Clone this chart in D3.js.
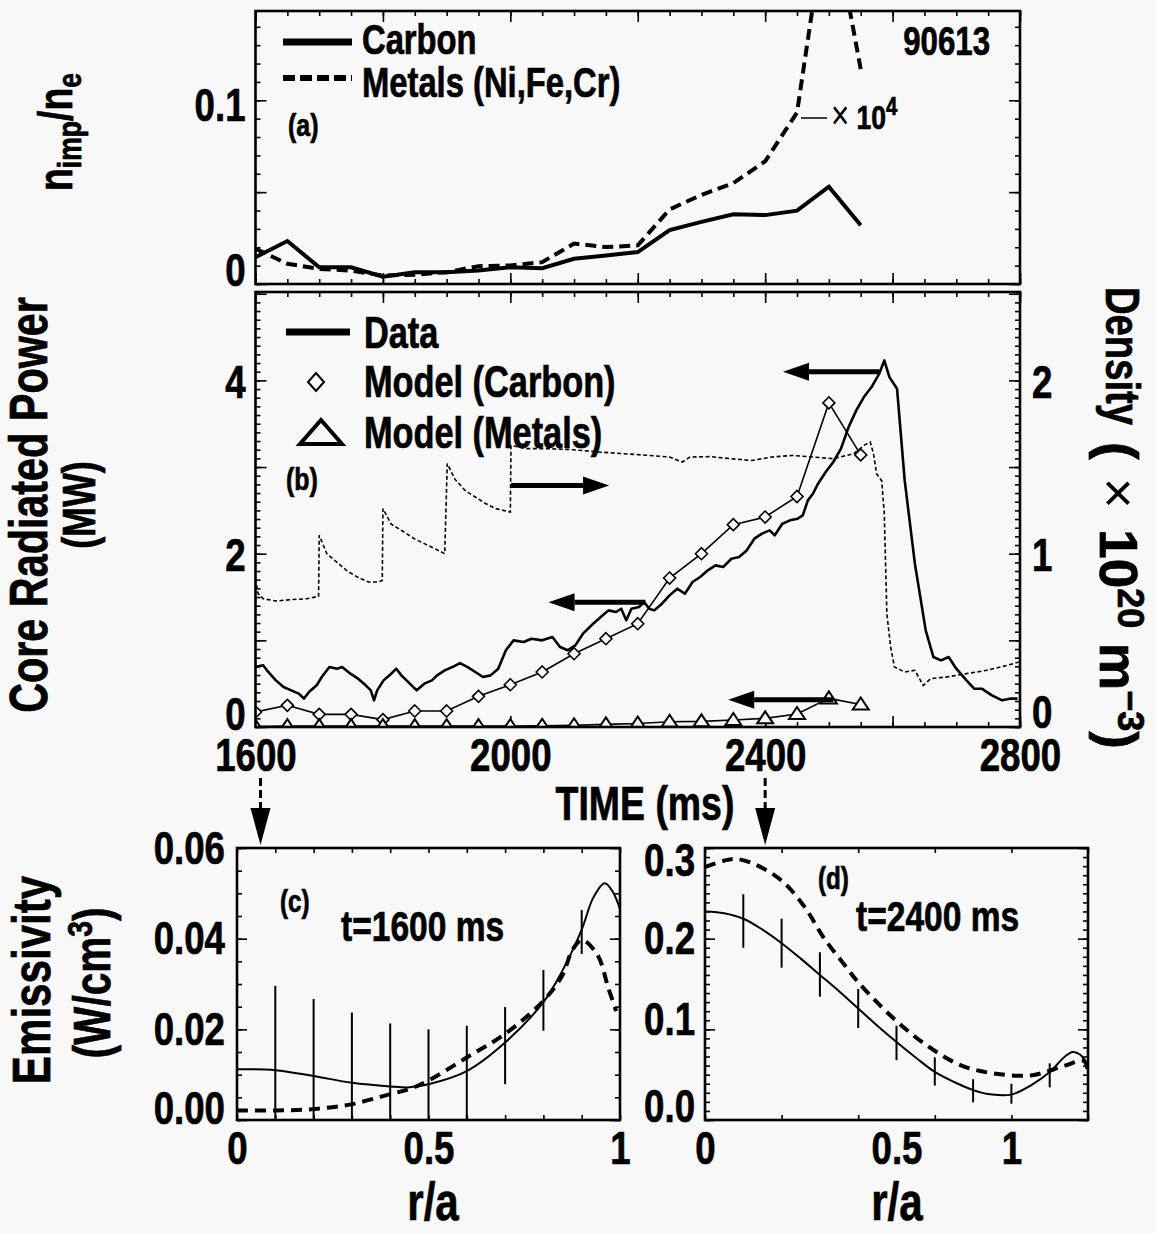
<!DOCTYPE html>
<html>
<head>
<meta charset="utf-8">
<script src="https://cdn.jsdelivr.net/npm/d3@7"></script>
<style>
  body { margin: 0; background: #f8f8f8; }
  svg { display: block; }
  text { font-family: "Liberation Sans", Arial, Helvetica, sans-serif; font-weight: bold; fill: #000; stroke: #000; stroke-width: 0.7px; }
</style>
</head>
<body>
<svg id="chart" width="1156" height="1233"></svg>
<script>
// ---- (a) impurity fraction, every 50 ms ----
const impTimes = [1600,1650,1700,1750,1800,1850,1900,1950,2000,2050,2100,2150,2200,2250,2300,2350,2400,2450,2500,2550];
const carbonFrac = [0.0146,0.0234,0.0091,0.0091,0.0040,0.0064,0.0064,0.0073,0.0091,0.0086,0.0137,0.0155,0.0174,0.0293,0.0338,0.0380,0.0375,0.0399,0.0530,0.0320];
const metalsFrac = [0.0192,0.0110,0.0082,0.0073,0.0046,0.0051,0.0064,0.0097,0.0101,0.0119,0.0220,0.0201,0.0210,0.0406,0.0485,0.0549,0.0668,0.0933,0.2100,0.1170];

// ---- (b) model radiated power (MW) at the same times ----
const modelCarbon = [0.173,0.250,0.146,0.146,0.085,0.185,0.185,0.354,0.488,0.635,0.846,1.019,1.192,1.719,2.000,2.335,2.423,2.660,3.740,3.140];
const modelMetals = [0.005,0.010,0.010,0.010,0.010,0.010,0.010,0.010,0.012,0.015,0.020,0.030,0.040,0.060,0.065,0.080,0.100,0.150,0.330,0.260];

// measured core radiated power [time ms, MW]
const powerData = [
  [1600,0.692],[1612,0.712],[1620,0.635],[1632,0.538],[1644,0.462],[1656,0.423],[1668,0.385],[1676,0.327],
  [1684,0.404],[1696,0.481],[1704,0.577],[1716,0.692],[1728,0.673],[1736,0.692],[1749,0.615],[1761,0.558],
  [1773,0.481],[1781,0.423],[1786,0.308],[1791,0.423],[1801,0.538],[1813,0.615],[1821,0.673],[1829,0.596],
  [1837,0.538],[1845,0.481],[1853,0.423],[1865,0.500],[1877,0.538],[1885,0.596],[1897,0.654],[1909,0.692],
  [1921,0.738],[1933,0.692],[1945,0.635],[1957,0.577],[1969,0.596],[1981,0.673],[1993,0.885],[2005,1.000],
  [2021,0.981],[2033,1.019],[2050,1.000],[2066,1.038],[2078,0.923],[2090,0.885],[2102,0.942],[2114,1.077],
  [2130,1.192],[2142,1.269],[2154,1.346],[2166,1.327],[2174,1.365],[2182,1.231],[2190,1.365],[2202,1.385],
  [2210,1.442],[2218,1.365],[2226,1.346],[2238,1.423],[2250,1.519],[2262,1.596],[2274,1.538],[2286,1.673],
  [2298,1.731],[2310,1.808],[2322,1.865],[2334,1.846],[2347,1.942],[2359,1.962],[2371,2.038],[2383,2.173],
  [2395,2.231],[2407,2.269],[2415,2.212],[2427,2.346],[2439,2.385],[2451,2.404],[2459,2.442],[2467,2.615],
  [2475,2.692],[2483,2.808],[2495,2.942],[2507,3.058],[2519,3.212],[2531,3.462],[2543,3.654],[2555,3.808],
  [2567,3.923],[2579,4.077],[2587,4.231],[2595,4.038],[2607,3.904],[2619,2.846],[2635,1.885],[2652,1.115],
  [2664,0.808],[2676,0.769],[2688,0.808],[2700,0.673],[2716,0.538],[2728,0.442],[2740,0.442],[2756,0.365],
  [2772,0.308],[2784,0.327],[2796,0.327]
];

// line-averaged density [time ms, 1e20 m^-3]
const densityData = [
  [1600,0.856],[1604,0.770],[1612,0.740],[1632,0.727],[1656,0.735],[1680,0.740],[1699,0.754],
  [1700,1.106],[1712,1.000],[1728,0.950],[1744,0.900],[1760,0.865],[1777,0.837],[1793,0.837],[1799,0.846],
  [1800,1.260],[1813,1.170],[1829,1.135],[1849,1.087],[1865,1.058],[1881,1.030],[1897,1.000],
  [1901,1.520],[1913,1.430],[1929,1.365],[1945,1.327],[1961,1.290],[1977,1.260],[2000,1.240],
  [2001,1.625],[2025,1.606],[2058,1.606],[2098,1.600],[2138,1.587],[2178,1.577],[2218,1.567],[2250,1.558],
  [2270,1.529],[2282,1.558],[2314,1.560],[2346,1.548],[2379,1.538],[2411,1.558],[2443,1.567],[2475,1.558],
  [2507,1.548],[2539,1.577],[2555,1.625],[2565,1.644],[2570,1.577],[2575,1.460],[2583,1.420],[2587,1.230],
  [2591,0.654],[2597,0.460],[2603,0.346],[2619,0.317],[2635,0.327],[2648,0.240],[2660,0.279],[2684,0.288],
  [2716,0.308],[2748,0.327],[2780,0.356],[2798,0.375]
];

// ---- (c) emissivity profile at t=1600 ms ----
const cSolidR = [0,0.1,0.2,0.3,0.4,0.45,0.5,0.6,0.7,0.8,0.85,0.9,0.93,0.96,0.98,1.0];
const cSolid  = [0.0112,0.0110,0.0097,0.0082,0.0074,0.0072,0.0079,0.0108,0.0171,0.0260,0.0330,0.0420,0.0490,0.0522,0.0505,0.0465];
const cDashR  = [0,0.1,0.2,0.3,0.4,0.45,0.5,0.6,0.7,0.8,0.85,0.875,0.9,0.94,0.97,0.99];
const cDash   = [0.0021,0.0021,0.0024,0.0035,0.0057,0.0068,0.0087,0.0138,0.0190,0.0263,0.0320,0.0374,0.0397,0.0366,0.0290,0.0240];
const cErrR   = [0.1,0.2,0.3,0.4,0.5,0.6,0.7,0.8,0.9];
const cErrLo  = [0,0,0,0,0,0,0.0079,0.0197,0.0366];
const cErrHi  = [0.0296,0.0267,0.0237,0.0213,0.0200,0.0208,0.0249,0.0331,0.0463];

// ---- (d) emissivity profile at t=2400 ms ----
const dSolidR = [0,0.05,0.1,0.15,0.2,0.25,0.3,0.35,0.4,0.45,0.5,0.55,0.6,0.65,0.7,0.75,0.8,0.85,0.9,0.94,0.96,0.98,1.0];
const dSolid  = [0.230,0.228,0.222,0.210,0.195,0.178,0.160,0.142,0.123,0.104,0.086,0.069,0.053,0.042,0.033,0.028,0.028,0.038,0.053,0.070,0.075,0.072,0.060];
const dDashR  = [0,0.05,0.08,0.13,0.2,0.26,0.31,0.37,0.4,0.49,0.58,0.67,0.76,0.85,0.89,0.94,0.99,1.0];
const dDash   = [0.279,0.286,0.288,0.282,0.264,0.235,0.201,0.168,0.152,0.113,0.082,0.060,0.051,0.049,0.053,0.060,0.065,0.052];
const dErrR   = [0.1,0.2,0.3,0.4,0.5,0.6,0.7,0.8,0.9];
const dErrLo  = [0.190,0.168,0.136,0.1015,0.066,0.038,0.0195,0.018,0.036];
const dErrHi  = [0.249,0.222,0.185,0.1445,0.104,0.069,0.045,0.040,0.0625];

// tick labels
const timeTicks = [1600,2000,2400,2800];
const dTickVals = [0,0.5,0.8];
const dTickText = ["0","0.5","1"];

const svg = d3.select("#chart");
const FS = 47;     // tick label size
const SX = 0.78;   // horizontal squeeze, the original uses a condensed face

// scales
const xT = d3.scaleLinear([1600,2800],[255.5,1020]);
const yA = d3.scaleLinear([0,0.1486],[284,11]);
const yP = d3.scaleLinear([0,5.02],[727,292]);
const yN = d3.scaleLinear([0,2.51],[727,292]);
const xC = d3.scaleLinear([0,1],[237,620]);
const yC = d3.scaleLinear([0,0.06],[1120,848]);
const xD = d3.scaleLinear([0,1],[705,1088]);
const yD = d3.scaleLinear([0,0.3],[1120,848]);

const defs = svg.append("defs");
function clip(id, x0, y0, x1, y1) {
  defs.append("clipPath").attr("id", id).append("rect")
    .attr("x", x0).attr("y", y0).attr("width", x1 - x0).attr("height", y1 - y0);
  return `url(#${id})`;
}

function tickSet(axis, scale, values, size, tx, ty) {
  const g = svg.append("g").attr("transform", `translate(${tx},${ty})`)
    .call(axis(scale).tickValues(values).tickSize(-size).tickFormat(""));
  g.select(".domain").remove();
  g.selectAll("line").attr("stroke", "#000").attr("stroke-width", 1.6);
}

function labels(axis, scale, values, fmt, tx, ty, pad, shift) {
  const g = svg.append("g").attr("transform", `translate(${tx},${ty})`)
    .call(axis(scale).tickValues(values).tickFormat(fmt).tickSize(0).tickPadding(pad));
  g.select(".domain").remove();
  g.attr("font-size", FS).attr("font-family", null);
  g.selectAll("text").attr("fill", "#000")
    .attr("transform", d => `translate(0,${shift ? shift(d) : 0})`);
}

function frame(xs, ys) {
  const [x0, x1] = xs.range(), [y0, y1] = ys.range();
  svg.append("rect").attr("x", x0).attr("y", y1).attr("width", x1 - x0).attr("height", y0 - y1)
    .attr("fill", "none").attr("stroke", "#000").attr("stroke-width", 2.6);
}

function boxTicks(xs, ys, xMinor, xMajor, yMinor, yMajor, minorLen, majorLen) {
  const [x0, x1] = xs.range(), [y0, y1] = ys.range();
  tickSet(d3.axisTop, xs, xMinor, minorLen, 0, y1);
  tickSet(d3.axisBottom, xs, xMinor, minorLen, 0, y0);
  tickSet(d3.axisTop, xs, xMajor, majorLen, 0, y1);
  tickSet(d3.axisBottom, xs, xMajor, majorLen, 0, y0);
  tickSet(d3.axisLeft, ys, yMinor, minorLen, x0, 0);
  tickSet(d3.axisLeft, ys, yMajor, majorLen, x0, 0);
}

function hArrow(x1, x2, y) {
  // tail at x1, tip at x2
  const dir = Math.sign(x2 - x1), base = x2 - dir * 26;
  svg.append("line").attr("x1", x1).attr("x2", base).attr("y1", y).attr("y2", y)
    .attr("stroke", "#000").attr("stroke-width", 5);
  svg.append("path").attr("d", `M${x2},${y}L${base},${y - 9}L${base},${y + 9}Z`).attr("fill", "#000");
}

function downArrow(x, y1, y2) {
  svg.append("line").attr("x1", x).attr("x2", x).attr("y1", y1).attr("y2", y2 - 36)
    .attr("stroke", "#000").attr("stroke-width", 3).attr("stroke-dasharray", "8,4");
  svg.append("path").attr("d", `M${x},${y2}L${x - 10},${y2 - 37}L${x + 10},${y2 - 37}Z`).attr("fill", "#000");
}

function label(x, y, str, size, anchor) {
  return svg.append("text").attr("x", x).attr("y", y).attr("font-size", size)
    .attr("text-anchor", anchor || "start").text(str);
}

const minorT = d3.range(1600, 2801, 50), majorT = d3.range(1600, 2801, 200);

// ================= panel (a) =================
{
  boxTicks(xT, yA, minorT, majorT, d3.range(0, 0.145, 0.01), [0, 0.05, 0.1], 5, 11);
  tickSet(d3.axisRight, yA, d3.range(0, 0.145, 0.01), 5, 1020, 0);
  tickSet(d3.axisRight, yA, [0, 0.05, 0.1], 11, 1020, 0);
  labels(d3.axisLeft, yA, [0, 0.1], d => d === 0 ? "0" : "0.1", 255.5, 0, 10, d => d === 0 ? -14 : 5);

  const g = svg.append("g").attr("clip-path", clip("clipA", 256, 12, 1019, 283));
  const line = d3.line().x(d => xT(d[0])).y(d => yA(d[1]));
  g.append("path").datum(d3.zip(impTimes, carbonFrac)).attr("d", line)
    .attr("fill", "none").attr("stroke", "#000").attr("stroke-width", 4).attr("stroke-linejoin", "miter");
  g.append("path").datum(d3.zip(impTimes, metalsFrac)).attr("d", line)
    .attr("fill", "none").attr("stroke", "#000").attr("stroke-width", 4).attr("stroke-dasharray", "11,6");
  frame(xT, yA);

  // legend
  svg.append("line").attr("x1", 283).attr("x2", 352).attr("y1", 42).attr("y2", 42)
    .attr("stroke", "#000").attr("stroke-width", 7);
  svg.append("line").attr("x1", 283).attr("x2", 352).attr("y1", 78).attr("y2", 78)
    .attr("stroke", "#000").attr("stroke-width", 6).attr("stroke-dasharray", "12,5");
  label(362, 54, "Carbon", 42);
  label(362, 97, "Metals (Ni,Fe,Cr)", 42);
  label(288, 136, "(a)", 32);
  label(990, 55, "90613", 40, "end");

  svg.append("line").attr("x1", 801).attr("x2", 827).attr("y1", 118).attr("y2", 118)
    .attr("stroke", "#000").attr("stroke-width", 1.5);
  const t = label(831, 129, "", 34);
  t.append("tspan").attr("font-weight", "normal").attr("stroke-width", 0).attr("font-size", 40).text("×");
  t.append("tspan").text(" 10");
  t.append("tspan").attr("dy", -14).attr("font-size", 26).text("4");
}

// ================= panel (b) =================
{
  boxTicks(xT, yP, minorT, majorT, d3.range(0, 5.01, 0.1), [0, 1, 2, 3, 4, 5], 5, 11);
  tickSet(d3.axisRight, yN, d3.range(0, 2.51, 0.05), 5, 1020, 0);
  tickSet(d3.axisRight, yN, [0, 0.5, 1, 1.5, 2, 2.5], 11, 1020, 0);
  labels(d3.axisLeft, yP, [0, 2, 4], d3.format("d"), 255.5, 0, 10, d => d === 0 ? -13 : 2);
  labels(d3.axisRight, yN, [0, 1, 2], d3.format("d"), 1020, 0, 12, d => d === 0 ? -15 : 2);
  labels(d3.axisBottom, xT, timeTicks, d3.format("d"), 0, 727, 11);

  const g = svg.append("g").attr("clip-path", clip("clipB", 256, 293, 1019, 726));
  g.append("path").datum(densityData)
    .attr("d", d3.line().x(d => xT(d[0])).y(d => yN(d[1])))
    .attr("fill", "none").attr("stroke", "#000").attr("stroke-width", 1.6).attr("stroke-dasharray", "4,2.5");
  const pLine = d3.line().x(d => xT(d[0])).y(d => yP(d[1]));
  g.append("path").datum(powerData).attr("d", pLine)
    .attr("fill", "none").attr("stroke", "#000").attr("stroke-width", 2.6).attr("stroke-linejoin", "round");
  g.append("path").datum(d3.zip(impTimes, modelCarbon)).attr("d", pLine)
    .attr("fill", "none").attr("stroke", "#000").attr("stroke-width", 1.6);
  g.append("path").datum(d3.zip(impTimes, modelMetals)).attr("d", pLine)
    .attr("fill", "none").attr("stroke", "#000").attr("stroke-width", 1.6);

  g.selectAll("path.dia").data(d3.zip(impTimes, modelCarbon)).join("path").attr("class", "dia")
    .attr("transform", d => `translate(${xT(d[0])},${yP(d[1])})`)
    .attr("d", "M0,-6L6,0L0,6L-6,0Z").attr("fill", "#f8f8f8").attr("stroke", "#000").attr("stroke-width", 1.6);
  g.selectAll("path.tri").data(d3.zip(impTimes, modelMetals)).join("path").attr("class", "tri")
    .attr("transform", d => `translate(${xT(d[0])},${yP(d[1])})`)
    .attr("d", "M0,-7L8,5L-8,5Z").attr("fill", "#f8f8f8").attr("stroke", "#000").attr("stroke-width", 2);
  frame(xT, yP);

  // arrows pointing to the axis each curve uses
  hArrow(xT(2579), xT(2428), yP(4.10));
  hArrow(xT(2001), xT(2155), yN(1.394));
  hArrow(xT(2212), xT(2060), yP(1.44));
  hArrow(xT(2507), xT(2342), yP(0.315));

  // legend
  svg.append("line").attr("x1", 286).attr("x2", 350).attr("y1", 332).attr("y2", 332)
    .attr("stroke", "#000").attr("stroke-width", 7);
  svg.append("path").attr("d", "M316,373L324,382L316,391L308,382Z")
    .attr("fill", "none").attr("stroke", "#000").attr("stroke-width", 2);
  svg.append("path").attr("d", "M321,420L342,444L300,444Z")
    .attr("fill", "none").attr("stroke", "#000").attr("stroke-width", 4).attr("stroke-linejoin", "miter");
  label(364, 348, "Data", 44);
  label(364, 397, "Model (Carbon)", 44);
  label(364, 448, "Model (Metals)", 44);
  label(286, 490, "(b)", 32);
}

label(645, 820, "TIME (ms)", 48, "middle");
downArrow(xT(1600) + 5, 778, 845);
downArrow(xT(2400), 778, 845);

// ================= panel (c) =================
{
  boxTicks(xC, yC, d3.range(0, 1.001, 0.1), [], d3.range(0, 0.0601, 0.005), [0, 0.02, 0.04, 0.06], 5, 10);
  tickSet(d3.axisRight, yC, d3.range(0, 0.0601, 0.005), 5, 620, 0);
  tickSet(d3.axisRight, yC, [0, 0.02, 0.04, 0.06], 10, 620, 0);
  labels(d3.axisLeft, yC, [0, 0.02, 0.04, 0.06], d3.format(".2f"), 237, 0, 12, d => d === 0 ? -12 : 0);
  labels(d3.axisBottom, xC, [0, 0.5, 1], d => d === 0 || d === 1 ? String(d) : "0.5", 0, 1120, 11);

  const g = svg.append("g").attr("clip-path", clip("clipC", 238, 849, 619, 1119));
  const line = d3.line().curve(d3.curveCatmullRom).x(d => xC(d[0])).y(d => yC(d[1]));
  g.append("path").datum(d3.zip(cSolidR, cSolid)).attr("d", line)
    .attr("fill", "none").attr("stroke", "#000").attr("stroke-width", 2);
  g.append("path").datum(d3.zip(cDashR, cDash)).attr("d", line)
    .attr("fill", "none").attr("stroke", "#000").attr("stroke-width", 4).attr("stroke-dasharray", "11,7");
  g.selectAll("line.err").data(d3.zip(cErrR, cErrLo, cErrHi)).join("line").attr("class", "err")
    .attr("x1", d => xC(d[0])).attr("x2", d => xC(d[0]))
    .attr("y1", d => yC(d[1])).attr("y2", d => yC(d[2]))
    .attr("stroke", "#000").attr("stroke-width", 2);
  frame(xC, yC);

  label(280, 912, "(c)", 31);
  label(341, 941, "t=1600 ms", 43);
  label(433, 1220, "r/a", 54, "middle");
}

// ================= panel (d) =================
{
  boxTicks(xD, yD, d3.range(0, 1.001, 0.2), [], d3.range(0, 0.301, 0.01), [0, 0.1, 0.2, 0.3], 5, 10);
  tickSet(d3.axisRight, yD, d3.range(0, 0.301, 0.01), 5, 1088, 0);
  tickSet(d3.axisRight, yD, [0, 0.1, 0.2, 0.3], 10, 1088, 0);
  labels(d3.axisLeft, yD, [0, 0.1, 0.2, 0.3], d3.format(".1f"), 705, 0, 10,
    d => d === 0 ? -14 : d === 0.3 ? 12 : d === 0.1 ? -10 : 0);
  labels(d3.axisBottom, xD, dTickVals, (d, i) => dTickText[i], 0, 1120, 11);

  const g = svg.append("g").attr("clip-path", clip("clipD", 706, 849, 1087, 1119));
  const line = d3.line().curve(d3.curveCatmullRom).x(d => xD(d[0])).y(d => yD(d[1]));
  g.append("path").datum(d3.zip(dSolidR, dSolid)).attr("d", line)
    .attr("fill", "none").attr("stroke", "#000").attr("stroke-width", 2);
  g.append("path").datum(d3.zip(dDashR, dDash)).attr("d", line)
    .attr("fill", "none").attr("stroke", "#000").attr("stroke-width", 4).attr("stroke-dasharray", "11,7");
  g.selectAll("line.err").data(d3.zip(dErrR, dErrLo, dErrHi)).join("line").attr("class", "err")
    .attr("x1", d => xD(d[0])).attr("x2", d => xD(d[0]))
    .attr("y1", d => yD(d[1])).attr("y2", d => yD(d[2]))
    .attr("stroke", "#000").attr("stroke-width", 2);
  frame(xD, yD);

  label(818, 889, "(d)", 31);
  label(856, 931, "t=2400 ms", 43);
  label(897, 1220, "r/a", 54, "middle");
}

// ================= axis titles =================
{
  const t1 = svg.append("text").attr("transform", "translate(72,132) rotate(-90)")
    .attr("text-anchor", "middle").attr("font-size", 48);
  t1.append("tspan").text("n");
  t1.append("tspan").attr("dy", 9).attr("font-size", 34).text("imp");
  t1.append("tspan").attr("dy", -9).text("/n");
  t1.append("tspan").attr("dy", 9).attr("font-size", 34).text("e");

  svg.append("text").attr("transform", "translate(47,505) rotate(-90)")
    .attr("text-anchor", "middle").attr("font-size", 53).text("Core Radiated Power");
  svg.append("text").attr("transform", "translate(95,505) rotate(-90)")
    .attr("text-anchor", "middle").attr("font-size", 46).text("(MW)");

  svg.append("text").attr("transform", "translate(50,980) rotate(-90)")
    .attr("text-anchor", "middle").attr("font-size", 54).text("Emissivity");
  const t2 = svg.append("text").attr("transform", "translate(110,983) rotate(-90)")
    .attr("text-anchor", "middle").attr("font-size", 52);
  t2.append("tspan").text("(W/cm");
  t2.append("tspan").attr("dy", -18).attr("font-size", 36).text("3");
  t2.append("tspan").attr("dy", 18).text(")");

  svg.append("text").attr("transform", "translate(1106,287) rotate(90)")
    .attr("font-size", 49).text("Density");
  // the unit part is set wider in the original
  const t3 = svg.append("text").attr("class", "wide").attr("transform", "translate(1100,442) rotate(90)")
    .attr("font-size", 53);
  t3.append("tspan").text("(");
  t3.append("tspan").attr("dx", 18).attr("font-weight", "normal").attr("stroke-width", 0).text("×");
  t3.append("tspan").attr("dx", 6).text(" 10");
  t3.append("tspan").attr("dy", -18).attr("font-size", 36).text("20");
  t3.append("tspan").attr("dy", 18).text(" m");
  t3.append("tspan").attr("dy", -18).attr("font-size", 36).text("−3");
  t3.append("tspan").attr("dy", 18).text(")");
}

// squeeze texts horizontally about their anchor point
svg.selectAll("text:not(.wide)").each(function () {
  const el = d3.select(this);
  const x = +el.attr("x") || 0;
  const tr = el.attr("transform") || "";
  el.attr("transform", `${tr} translate(${x},0) scale(${SX},1) translate(${-x},0)`);
});
</script>
</body>
</html>
